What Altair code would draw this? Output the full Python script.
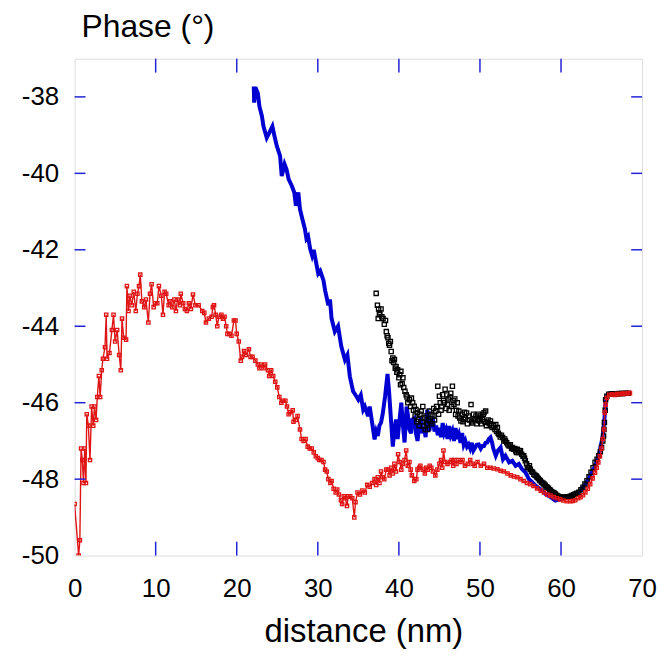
import altair as alt
import pandas as pd

# ---------------- data ----------------
blue_x = [22.1, 22.15, 22.3, 22.6, 22.8, 23.1, 23.3, 23.7, 24.1, 24.4, 24.7, 24.95, 25.35, 25.55, 25.9,
          26.15, 26.4, 26.8, 27.1, 27.3, 27.6, 27.8, 28.1, 28.4, 28.6, 28.8, 29.05, 29.3, 29.5, 29.85,
          30.05, 30.3, 30.7, 30.9, 31.3, 31.5, 31.7, 32.1, 32.5, 32.9, 33.35, 33.65, 33.95, 34.35, 34.75,
          35.0, 35.3, 35.6, 35.8, 36.2, 36.4, 36.7, 37.0, 37.2, 37.4, 37.6, 37.8, 38.0, 38.3, 38.6,
          38.8, 39.05, 39.25, 39.45, 39.65, 39.85, 40.05, 40.3, 40.5, 40.7, 40.95, 41.1, 41.3, 41.5, 41.6,
          41.9, 42.1, 42.3, 42.5, 42.7, 42.9, 43.1, 43.3, 43.5, 43.75, 43.95, 44.2, 44.4, 44.6, 44.8,
          45.0, 45.2, 45.4, 45.6, 45.8, 46.0, 46.2, 46.4, 46.6, 46.8, 47.0, 47.2, 47.4, 47.6, 47.8,
          48.0, 48.2, 48.4, 48.6, 48.8, 49.0, 49.2, 49.4, 49.6, 49.85, 50.1, 50.3, 50.5, 50.7, 50.9,
          51.1, 51.3, 51.5, 51.65, 51.95, 52.2, 52.55, 52.85, 53.15, 53.6, 54.0, 54.4, 54.8, 55.2, 55.6,
          56.05, 56.45, 56.85, 57.45, 58.1, 58.7, 59.3, 59.9, 60.5, 61.15, 61.75, 62.4, 63.0, 63.6, 64.2,
          64.75, 65.15, 65.35, 65.5, 65.7, 66.05, 66.9, 67.7, 68.5]
blue_y = [-37.73, -38.15, -37.75, -37.9, -38.25, -38.5, -38.77, -39.07, -38.9, -38.77, -39.07, -39.29, -39.55, -40.07, -39.76,
          -39.9, -40.15, -40.33, -40.5, -40.85, -40.5, -40.94, -41.2, -41.45, -41.71, -41.65, -41.97, -42.15, -42.0, -42.4,
          -42.62, -42.55, -42.8, -43.06, -43.45, -43.3, -43.8, -44.14, -44.0, -44.53, -44.88, -44.75, -45.31, -45.7, -45.83,
          -45.92, -45.8, -46.18, -46.1, -46.35, -46.1, -46.52, -46.96, -46.75, -46.87, -46.6, -46.52, -46.3, -45.83, -45.25,
          -45.74, -46.52, -47.15, -46.7, -46.44, -46.95, -46.5, -46.0, -46.6, -47.04, -46.1, -46.3, -46.7, -46.8, -46.45,
          -46.4, -46.8, -47.0, -46.6, -46.35, -46.8, -46.65, -46.9, -46.18, -46.74, -46.5, -46.44, -46.75, -46.6, -46.85,
          -46.66, -46.9, -46.53, -46.8, -46.7, -46.95, -46.61, -46.85, -46.74, -47.0, -46.66, -46.95, -46.83, -47.05, -46.79,
          -47.1, -47.0, -47.15, -47.09, -47.2, -47.05, -47.25, -47.18, -47.1, -47.09, -47.2, -47.13, -47.13, -47.05, -47.04,
          -46.95, -46.91, -47.05, -47.2, -47.39, -47.26, -47.17, -47.48, -47.39, -47.56, -47.52, -47.65, -47.6, -47.74, -47.82,
          -48.0, -48.08, -48.17, -48.26, -48.39, -48.47, -48.56, -48.52, -48.47, -48.43, -48.39, -48.3, -48.13, -47.91, -47.65,
          -47.3, -46.87, -46.44, -46.0, -45.81, -45.76, -45.75, -45.75, -45.75]

black_x = [37.2, 37.35, 37.45, 37.5, 37.6, 37.65, 37.8, 37.9, 38.05, 38.2, 38.35, 38.45, 38.55, 38.65, 38.75,
           38.85, 38.95, 39.05, 39.15, 39.25, 39.35, 39.45, 39.55, 39.65, 39.75, 39.85, 40.0, 40.1, 40.2, 40.25,
           40.4, 40.5, 40.6, 40.75, 40.9, 41.0, 41.1, 41.3, 41.45, 41.55, 41.7, 41.8, 41.9, 42.0, 42.1,
           42.2, 42.3, 42.4, 42.5, 42.6, 42.75, 42.85, 42.95, 43.05, 43.15, 43.25, 43.35, 43.45, 43.55, 43.65,
           43.75, 43.85, 43.95, 44.05, 44.2, 44.3, 44.4, 44.55, 44.65, 44.8, 44.9, 45.0, 45.1, 45.2, 45.3,
           45.4, 45.5, 45.6, 45.7, 45.8, 45.9, 46.0, 46.1, 46.2, 46.3, 46.4, 46.5, 46.6, 46.7, 46.8,
           46.9, 47.0, 47.1, 47.2, 47.3, 47.4, 47.5, 47.65, 47.8, 47.9, 48.0, 48.1, 48.2, 48.35, 48.45,
           48.6, 48.75, 48.9, 49.0, 49.1, 49.2, 49.35, 49.5, 49.6, 49.7, 49.8, 49.9, 50.0, 50.1, 50.2,
           50.3, 50.4, 50.5, 50.6, 50.7, 50.8, 50.9, 51.0, 51.15, 51.3, 51.4, 51.5, 51.7, 51.85, 51.95,
           52.05, 52.15, 52.25, 52.35, 52.5, 52.65, 52.8, 52.95, 53.05, 53.15, 53.3, 53.45, 53.6, 53.75, 53.9,
           54.0, 54.15, 54.3, 54.4, 54.5, 54.6, 54.75, 54.85, 55.0, 55.15, 55.3, 55.4, 55.5, 55.6, 55.75,
           55.85, 56.0, 56.1, 56.2, 56.35, 56.5, 56.65, 56.8, 56.95, 57.05, 57.2, 57.35, 57.45, 57.6, 57.75,
           57.9, 58.05, 58.15, 58.3, 58.45, 58.6, 58.7, 58.85, 59.0, 59.15, 59.3, 59.45, 59.6, 59.75, 59.9,
           60.1, 60.3, 60.5, 60.7, 60.9, 61.15, 61.35, 61.55, 61.75, 61.95, 62.2, 62.45, 62.7, 62.95, 63.2,
           63.45, 63.7, 63.95, 64.2, 64.45, 64.65, 64.85, 65.0, 65.15, 65.25, 65.3, 65.35, 65.45, 65.5, 65.65,
           65.9, 66.1, 66.3, 66.6, 66.9, 67.2, 67.5, 67.7, 68.0, 68.3]
black_y = [-43.14, -43.45, -43.8, -43.55, -43.65, -43.7, -43.55, -43.75, -43.8, -43.95, -43.85, -44.14, -44.25, -44.3, -44.45,
           -44.5, -44.4, -44.66, -44.9, -44.83, -44.95, -44.87, -45.1, -45.05, -45.2, -45.14, -45.35, -45.27, -45.53, -45.18,
           -45.5, -45.35, -45.6, -45.7, -45.79, -45.85, -46.0, -45.92, -46.1, -45.88, -46.0, -46.2, -46.09, -46.35, -46.18,
           -46.5, -46.26, -46.44, -46.6, -46.3, -46.22, -46.5, -46.1, -46.61, -46.4, -46.7, -46.35, -46.55, -46.7, -46.45,
           -46.22, -46.5, -46.3, -46.55, -46.35, -46.15, -46.45, -46.22, -46.1, -45.57, -46.3, -45.83, -46.0, -46.2, -46.1,
           -45.79, -45.95, -46.0, -45.65, -46.15, -45.8, -46.05, -45.9, -46.2, -45.85, -45.75, -46.1, -45.57, -45.95, -46.05,
           -45.9, -46.31, -46.2, -46.0, -46.35, -46.22, -46.4, -46.48, -46.3, -46.5, -46.44, -46.25, -46.4, -46.27, -46.55,
           -46.35, -46.45, -46.05, -46.5, -46.53, -46.3, -46.45, -46.35, -46.55, -46.44, -46.3, -46.48, -46.4, -46.35, -46.55,
           -46.44, -46.3, -46.26, -46.5, -46.22, -46.6, -46.52, -46.45, -46.55, -46.48, -46.6, -46.65, -46.6, -46.7, -46.57,
           -46.75, -46.65, -46.8, -46.83, -46.9, -46.85, -46.91, -47.0, -46.95, -47.0, -47.05, -47.1, -47.13, -47.1, -47.2,
           -47.17, -47.22, -47.2, -47.26, -47.3, -47.22, -47.3, -47.25, -47.26, -47.35, -47.4, -47.39, -47.45, -47.52, -47.6,
           -47.69, -47.7, -47.65, -47.74, -47.8, -47.82, -47.87, -47.9, -47.92, -47.95, -47.98, -48.02, -48.04, -48.08, -48.1,
           -48.13, -48.16, -48.2, -48.21, -48.24, -48.28, -48.3, -48.33, -48.35, -48.36, -48.39, -48.42, -48.44, -48.46, -48.47,
           -48.48, -48.48, -48.47, -48.46, -48.46, -48.45, -48.43, -48.41, -48.39, -48.37, -48.34, -48.28, -48.21, -48.13, -48.04,
           -47.94, -47.82, -47.7, -47.56, -47.48, -47.39, -47.28, -47.17, -47.0, -46.87, -46.7, -46.52, -46.2, -45.92, -45.83,
           -45.78, -45.78, -45.77, -45.77, -45.77, -45.76, -45.76, -45.76, -45.75, -45.75]

red_x = [0.0, 0.5, 0.65, 0.8, 0.95, 1.1, 1.25, 1.4, 1.5, 1.7, 1.9, 2.1, 2.3, 2.45, 2.65,
         2.8, 3.0, 3.15, 3.35, 3.5, 3.75, 3.9, 4.0, 4.3, 4.6, 4.8, 5.0, 5.25, 5.5, 5.7,
         5.85, 6.05, 6.35, 6.45, 6.65, 6.8, 7.05, 7.3, 7.55, 7.75, 7.95, 8.1, 8.3, 8.6, 8.8,
         9.1, 9.3, 9.5, 9.75, 9.95, 10.2, 10.4, 10.7, 10.9, 11.1, 11.3, 11.6, 11.8, 12.05, 12.3,
         12.5, 12.7, 13.0, 13.1, 13.4, 13.6, 13.85, 14.1, 14.35, 14.6, 14.9, 15.3, 15.75, 16.0, 16.2,
         16.55, 16.9, 17.05, 17.2, 17.4, 17.6, 17.8, 18.1, 18.3, 18.5, 18.7, 18.85, 19.1, 19.35, 19.65,
         19.85, 20.0, 20.25, 20.5, 20.65, 20.9, 21.15, 21.5, 21.7, 21.95, 22.3, 22.6, 22.8, 23.0, 23.3,
         23.5, 23.85, 24.0, 24.25, 24.5, 24.75, 25.0, 25.25, 25.5, 25.7, 26.0, 26.2, 26.4, 26.6, 26.9,
         27.0, 27.3, 27.5, 27.8, 28.0, 28.25, 28.5, 28.75, 29.0, 29.25, 29.5, 29.75, 30.0, 30.2, 30.45,
         30.7, 30.9, 31.1, 31.3, 31.55, 31.7, 31.95, 32.2, 32.4, 32.6, 32.85, 33.0, 33.2, 33.4, 33.6,
         33.75, 34.0, 34.25, 34.5, 34.65, 34.9, 35.2, 35.5, 35.8, 36.1, 36.4, 36.7, 37.0, 37.2, 37.4,
         37.6, 37.8, 38.0, 38.2, 38.45, 38.65, 38.85, 39.05, 39.25, 39.45, 39.65, 39.9, 40.1, 40.3, 40.5,
         40.7, 40.9, 41.1, 41.3, 41.45, 41.6, 41.9, 42.15, 42.3, 42.5, 42.65, 42.95, 43.2, 43.35, 43.55,
         43.8, 44.0, 44.2, 44.5, 44.75, 45.0, 45.2, 45.35, 45.5, 45.7, 46.0, 46.3, 46.5, 46.7, 46.85,
         47.1, 47.35, 47.6, 47.85, 48.15, 48.5, 48.8, 49.1, 49.35, 49.7, 50.1, 50.5, 50.9, 51.3, 51.7,
         52.15, 52.55, 52.95, 53.4, 53.8, 54.2, 54.6, 55.0, 55.4, 55.8, 56.2, 56.6, 57.05, 57.5, 57.9,
         58.3, 58.7, 59.1, 59.5, 59.9, 60.3, 60.7, 61.15, 61.45, 61.75, 62.1, 62.4, 62.7, 63.0, 63.3,
         63.6, 63.9, 64.2, 64.4, 64.6, 64.8, 65.0, 65.15, 65.3, 65.4, 65.5, 65.65, 65.95, 66.3, 66.6,
         66.9, 67.2, 67.5, 67.7, 68.0, 68.3, 68.5]
red_y = [-48.65, -50.0, -49.6, -47.2, -47.5, -48.1, -47.2, -48.1, -46.3, -46.6, -47.5, -46.1, -46.6, -46.1, -46.45,
         -45.85, -45.3, -45.85, -45.15, -44.85, -44.55, -43.7, -44.85, -44.7, -44.1, -43.7, -44.4, -44.1, -44.75, -45.15,
         -43.8, -44.3, -44.35, -42.95, -43.6, -43.2, -43.45, -43.1, -43.6, -43.15, -42.95, -42.65, -43.35, -43.5, -43.3,
         -43.9, -43.15, -42.9, -43.5, -43.4, -43.4, -42.95, -43.2, -43.7, -43.1, -43.15, -43.45, -43.35, -43.5, -43.3,
         -43.6, -43.3, -43.45, -43.15, -43.4, -43.55, -43.6, -43.4, -43.55, -43.17, -43.45, -43.45, -43.6, -43.65, -43.9,
         -43.8, -43.75, -43.5, -43.45, -43.7, -44.0, -43.75, -43.7, -43.8, -43.75, -44.0, -44.2, -44.2, -44.25, -43.85,
         -43.85, -44.2, -44.4, -44.9, -44.8, -44.65, -44.75, -44.6, -44.8, -44.8, -44.9, -45.0, -45.1, -45.0, -45.1,
         -45.0, -45.15, -45.3, -45.15, -45.3, -45.45, -45.6, -45.85, -46.0, -45.95, -45.95, -46.1, -46.3, -46.25, -46.2,
         -46.5, -46.45, -46.35, -46.7, -46.95, -47.0, -46.95, -47.15, -47.2, -47.2, -47.3, -47.4, -47.45, -47.5, -47.5,
         -47.55, -47.75, -47.8, -48.0, -48.1, -48.05, -48.25, -48.35, -48.27, -48.4, -48.55, -48.65, -48.45, -48.5, -48.7,
         -48.45, -48.45, -48.5, -49.0, -48.6, -48.35, -48.4, -48.3, -48.35, -48.15, -48.2, -48.1, -48.0, -48.15, -47.95,
         -48.1, -47.8, -47.95, -48.0, -47.75, -47.75, -47.9, -47.7, -47.85, -47.6, -47.8, -47.35, -47.55, -47.75, -47.6,
         -47.5, -47.25, -47.65, -47.55, -47.75, -47.9, -48.05, -48.0, -47.75, -47.7, -47.65, -47.75, -47.85, -47.7, -47.75,
         -47.65, -47.7, -47.8, -47.9, -47.75, -47.6, -47.5, -47.7, -47.25, -47.55, -47.6, -47.55, -47.5, -47.65, -47.5,
         -47.6, -47.5, -47.55, -47.5, -47.65, -47.6, -47.5, -47.6, -47.65, -47.55, -47.65, -47.6, -47.7, -47.7, -47.72,
         -47.74, -47.78, -47.8, -47.85, -47.9, -47.93, -47.95, -48.0, -48.05, -48.1, -48.13, -48.18, -48.24, -48.3, -48.35,
         -48.4, -48.43, -48.47, -48.5, -48.53, -48.56, -48.58, -48.58, -48.57, -48.55, -48.5, -48.47, -48.42, -48.35, -48.25,
         -48.13, -47.98, -47.83, -47.7, -47.56, -47.4, -47.2, -46.95, -46.7, -46.26, -46.05, -45.87, -45.79, -45.78, -45.8,
         -45.77, -45.78, -45.76, -45.77, -45.76, -45.75, -45.75]

x_ticks = [0, 10, 20, 30, 40, 50, 60, 70]
y_ticks = [-50, -48, -46, -44, -42, -40, -38]
x_inner_ticks = [10, 20, 30, 40, 50, 60]
y_inner_ticks = [-48, -46, -44, -42, -40, -38]

# ---------------- styling ----------------
W, H = 571, 500
FRAME = "#2323d6"
BLUE = "#0000d2"
RED = "#e01414"
FONT = "Liberation Sans"

xs = alt.Scale(domain=[0, 70], nice=False, zero=False)
ys = alt.Scale(domain=[-50, -37], nice=False, zero=False)

blue_df = pd.DataFrame({"x": blue_x, "y": blue_y, "i": range(len(blue_x))})
black_df = pd.DataFrame({"x": black_x, "y": black_y})
red_df = pd.DataFrame({"x": red_x, "y": red_y, "i": range(len(red_x))})

x_axis = alt.Axis(values=x_ticks, title="distance (nm)", ticks=False, domain=False, grid=False,
                  labelFontSize=26, labelFont=FONT, labelColor="black", labelPadding=20,
                  labelFlush=False, labelOverlap=False, labelExpr="'' + datum.value",
                  titleFontSize=33, titleFont=FONT, titleFontWeight="normal", titleColor="black",
                  titleX=W / 2 + 5, titleY=76, titleBaseline="middle", titleAlign="center")
y_axis = alt.Axis(values=y_ticks, title=None, ticks=False, domain=False, grid=False,
                  labelFontSize=26, labelFont=FONT, labelColor="black", labelPadding=16,
                  labelFlush=False, labelOverlap=False, labelExpr="'' + datum.value")

X = alt.X("x:Q", scale=xs, axis=x_axis, title="distance (nm)")
Y = alt.Y("y:Q", scale=ys, axis=y_axis, title=None)

blue_line = alt.Chart(blue_df).mark_line(color=BLUE, strokeWidth=4, clip=True).encode(
    x=X, y=Y, order="i:Q")

black_pts = alt.Chart(black_df).mark_point(shape="square", filled=False, size=18, strokeWidth=1.3,
                                           color="black", opacity=1, clip=True).encode(x=X, y=Y)

red_line = alt.Chart(red_df).mark_line(color=RED, strokeWidth=1.4, clip=True).encode(
    x=X, y=Y, order="i:Q")
red_pts = alt.Chart(red_df).mark_point(shape="square", filled=False, size=11, strokeWidth=1.3,
                                       color=RED, opacity=1, clip=True).encode(x=X, y=Y)

xt_df = pd.DataFrame({"x": x_inner_ticks})
yt_df = pd.DataFrame({"y": y_inner_ticks})
tick_bottom = alt.Chart(xt_df).mark_rule(color=FRAME, strokeWidth=1.5).encode(
    x=X, y=alt.value(H), y2=alt.value(H - 14))
tick_top = alt.Chart(xt_df).mark_rule(color=FRAME, strokeWidth=1.5).encode(
    x=X, y=alt.value(0), y2=alt.value(14))
tick_left = alt.Chart(yt_df).mark_rule(color=FRAME, strokeWidth=1.5).encode(
    y=Y, x=alt.value(0), x2=alt.value(11))
tick_right = alt.Chart(yt_df).mark_rule(color=FRAME, strokeWidth=1.5).encode(
    y=Y, x=alt.value(W), x2=alt.value(W - 11))

chart = alt.layer(
    blue_line, black_pts, red_line, red_pts, tick_bottom, tick_top, tick_left, tick_right
).properties(
    width=W, height=H,
    title=alt.TitleParams("Phase (°)", anchor="start", frame="group", offset=19, dx=7, dy=30,
                          fontSize=32, font=FONT, fontWeight="normal", color="black",
                          baseline="alphabetic"),
    autosize="none",
    padding={"left": 67, "top": 49, "right": 16, "bottom": 94},
).configure_view(stroke=FRAME, strokeWidth=1.5).configure(background="white")

chart.save("out.html", embed_options={"renderer": "svg", "actions": False})
